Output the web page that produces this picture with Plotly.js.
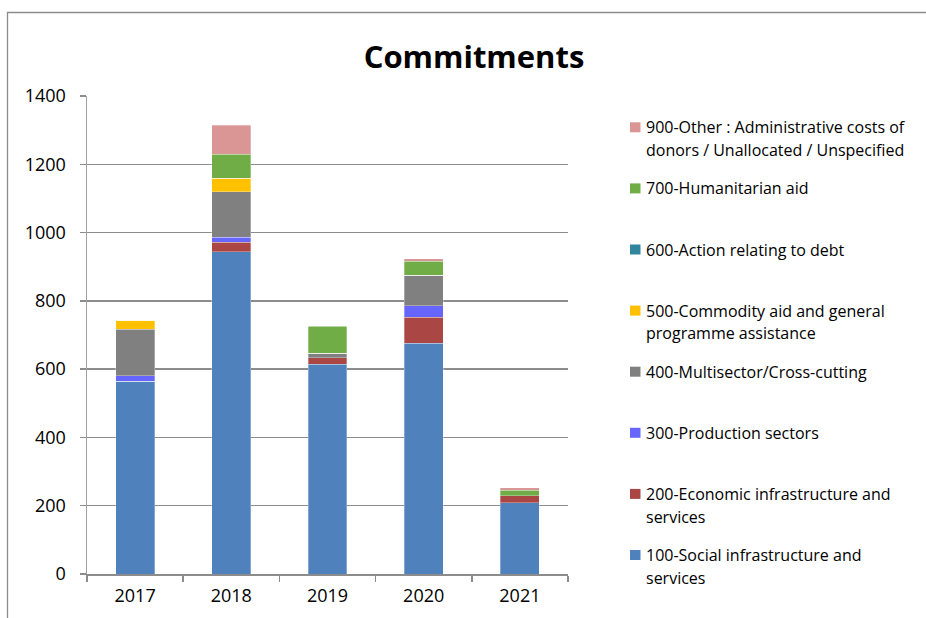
<!DOCTYPE html>
<html>
<head>
<meta charset="utf-8">
<script src="https://cdn.plot.ly/plotly-3.0.1.min.js"></script>
<style>html,body{margin:0;padding:0;background:#fff;}#chart{width:926px;height:618px;}</style>
</head>
<body>
<div id="chart"></div>
<script>
const years = ['2017', '2018', '2019', '2020', '2021'];
const s100 = [565, 944, 614, 676, 209];
const s200 = [0, 27, 19, 76, 20];
const s300 = [15, 16, 0, 34, 0];
const s400 = [137, 133, 13, 89, 0];
const s500 = [26, 39, 0, 0, 0];
const s600 = [0, 0, 0, 0, 0];
const s700 = [0, 70, 79, 41, 17];
const s900 = [0, 86, 2, 8, 6];

const seriesNames = [
  ['100-Social infrastructure and', 'services'],
  ['200-Economic infrastructure and', 'services'],
  ['300-Production sectors'],
  ['400-Multisector/Cross-cutting'],
  ['500-Commodity aid and general', 'programme assistance'],
  ['600-Action relating to debt'],
  ['700-Humanitarian aid'],
  ['900-Other : Administrative costs of', 'donors / Unallocated / Unspecified']
];
const seriesValues = [s100, s200, s300, s400, s500, s600, s700, s900];
const seriesColors = ['#4F81BD', '#AA4643', '#6666FF', '#808080', '#FFC000', '#31859C', '#70AD47', '#D99694'];

const FONT = 'Open Sans, Noto Sans, sans-serif';

// pixel helpers for layout placement (plot area 87..568 x, 96..574 y)
const PL = 87, PR = 568, PT = 96, PB = 574;
const px = x => (x - PL) / (PR - PL);
const py = y => (PB - y) / (PB - PT);

const traces = seriesValues.map((vals, i) => ({
  type: 'bar',
  name: seriesNames[i].join(' '),
  x: years,
  y: vals,
  marker: {color: seriesColors[i], line: {color: 'rgba(255,255,255,0.6)', width: 0.5}},
  showlegend: false,
  hoverinfo: 'x+y+name'
}));

const annotations = [];
const shapes = [];
// legend, top entry = last series
const legendTop = 127.3, legendStep = 61.1, lineStep = 22.8;
for (let k = 0; k < seriesNames.length; k++) {
  const i = seriesNames.length - 1 - k;
  const yc = legendTop + k * legendStep;
  shapes.push({type: 'rect', xref: 'paper', yref: 'paper',
    x0: px(630), x1: px(640.5), y0: py(yc + 5), y1: py(yc - 5),
    fillcolor: seriesColors[i], line: {width: 0}});
  seriesNames[i].forEach((line, j) => {
    annotations.push({xref: 'paper', yref: 'paper', x: px(644), y: py(yc + j * lineStep),
      xanchor: 'left', yanchor: 'middle', showarrow: false, text: line,
      font: {family: FONT, size: 16, color: '#000'}});
  });
}
// outer chart border
shapes.push({type: 'rect', xref: 'paper', yref: 'paper',
  x0: px(7.5), x1: px(1200), y0: py(800), y1: py(12.5),
  line: {color: '#8c8c8c', width: 1.3}, fillcolor: 'rgba(0,0,0,0)', layer: 'below'});

const layout = {
  width: 926, height: 618,
  margin: {l: PL, r: 926 - PR, t: PT, b: 618 - PB, pad: 0},
  paper_bgcolor: '#fff', plot_bgcolor: '#fff',
  barmode: 'stack', bargap: 0.595,
  font: {family: FONT, color: '#000'},
  title: {text: '<b>Commitments</b>', xref: 'container', yref: 'container',
    x: 474 / 926, y: 1 - 57 / 618, xanchor: 'center', yanchor: 'middle',
    font: {family: FONT, size: 31, color: '#000'}},
  xaxis: {type: 'category', showline: true, linecolor: '#8c8c8c', linewidth: 1.5,
    ticks: 'outside', tickson: 'boundaries', ticklen: 6, tickcolor: '#8c8c8c', tickwidth: 1.5,
    tickfont: {family: FONT, size: 18, color: '#000'}, ticklabelstandoff: 5,
    showgrid: false, zeroline: false, fixedrange: true},
  yaxis: {range: [0, 1400], dtick: 200, tick0: 0, showline: true, linecolor: '#a0a0a0', linewidth: 1.5,
    ticks: 'outside', ticklen: 6, tickcolor: '#8c8c8c', tickwidth: 1.5,
    gridcolor: '#8c8c8c', gridwidth: 1.5, zeroline: false,
    tickfont: {family: FONT, size: 18, color: '#000'}, ticklabelstandoff: 10, fixedrange: true},
  shapes: shapes,
  annotations: annotations,
  showlegend: false
};

Plotly.newPlot('chart', traces, layout, {displayModeBar: false, staticPlot: true});
</script>
</body>
</html>
